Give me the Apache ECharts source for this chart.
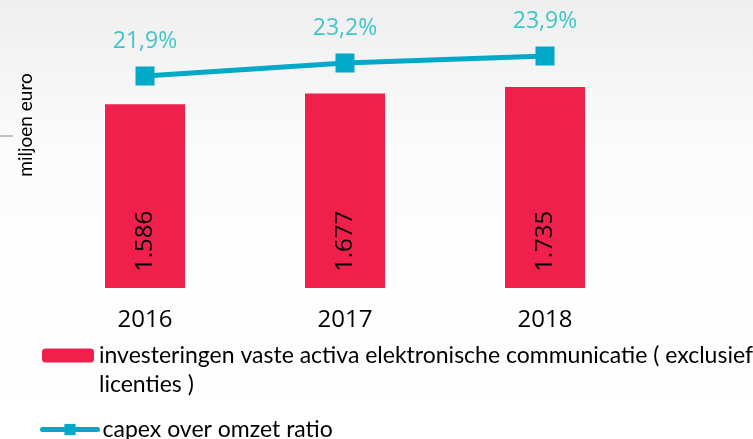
<!DOCTYPE html>
<html>
<head>
<meta charset="utf-8">
<script src="https://cdn.jsdelivr.net/npm/echarts@6/dist/echarts.min.js"></script>
<style>
  html, body { margin: 0; padding: 0; }
  #chart { width: 753px; height: 439px; }
</style>
</head>
<body>
<div id="chart"></div>
<script>
// data
const years = ['2016', '2017', '2018']
const investments = [1586, 1677, 1735]   // miljoen euro
const capexRatio = [21.9, 23.2, 23.9]    // procent

const barName = 'investeringen vaste activa elektronische communicatie ( exclusief licenties )'
const lineName = 'capex over omzet ratio'

const fmtThousand = v => String(v).replace(/\B(?=(\d{3})+(?!\d))/g, '.')
const fmtPct = v => v.toFixed(1).replace('.', ',') + '%'

let myChart = echarts.init(document.getElementById('chart'))

let option = {
  animation: false,
  backgroundColor: {
    type: 'linear', x: 0, y: 0, x2: 0, y2: 1,
    colorStops: [
      { offset: 0, color: '#efefef' },
      { offset: 0.35, color: '#fcfcfc' },
      { offset: 1, color: '#ffffff' }
    ]
  },
  textStyle: { fontFamily: 'Open Sans' },
  grid: { left: 45, right: 108, top: 33, bottom: 151 },
  graphic: [
    {
      type: 'text',
      x: 26, y: 125,
      rotation: Math.PI / 2,
      style: {
        text: 'miljoen euro',
        fontSize: 19,
        fontFamily: 'Lato',
        fill: '#000',
        textAlign: 'center',
        textVerticalAlign: 'middle'
      }
    },
    {
      type: 'line',
      shape: { x1: 0, y1: 136, x2: 13, y2: 136 },
      style: { stroke: '#b0b0b0', lineWidth: 1.5 }
    }
  ],
  legend: [
    {
      data: [barName],
      left: 42,
      top: 312,
      padding: 0,
      itemWidth: 52,
      itemHeight: 14,
      // blank first line keeps the icon level with the first text line
      formatter: name => '\n' + 'investeringen vaste activa elektronische communicatie ( exclusief' + '\n' + 'licenties )',
      textStyle: { fontFamily: 'Lato', fontSize: 23, color: '#000', lineHeight: 29 }
    },
    {
      data: [lineName],
      left: 40,
      top: 415,
      padding: 0,
      itemWidth: 55,
      itemHeight: 14,
      lineStyle: { width: 5, cap: 'round' },
      textStyle: { fontFamily: 'Lato', fontSize: 23, color: '#000', lineHeight: 29 }
    }
  ],
  xAxis: {
    type: 'category',
    data: years,
    axisLine: { show: false },
    axisTick: { show: false },
    axisLabel: { fontSize: 24, color: '#000', margin: 20, fontFamily: 'Open Sans' }
  },
  yAxis: [
    { type: 'value', min: 0, max: 2200, show: false },
    { type: 'value', min: 0.7, max: 26.2, show: false }
  ],
  series: [
    {
      name: barName,
      type: 'bar',
      data: investments,
      barWidth: 80,
      itemStyle: { color: '#f0204c' },
      label: {
        show: true,
        position: 'insideBottom',
        rotate: 90,
        align: 'left',
        verticalAlign: 'middle',
        distance: 16,
        fontSize: 24,
        color: '#000',
        fontFamily: 'Open Sans',
        formatter: p => fmtThousand(p.value)
      }
    },
    {
      name: lineName,
      type: 'line',
      yAxisIndex: 1,
      data: capexRatio,
      symbol: 'rect',
      symbolSize: 19,
      lineStyle: { width: 5, color: '#00a9c7', cap: 'round' },
      itemStyle: { color: '#00a9c7' },
      label: {
        show: true,
        position: 'top',
        distance: 14,
        fontSize: 23,
        color: '#3fc6c8',
        fontFamily: 'Open Sans',
        formatter: p => fmtPct(p.value)
      }
    }
  ]
}

myChart.setOption(option)
</script>
</body>
</html>
